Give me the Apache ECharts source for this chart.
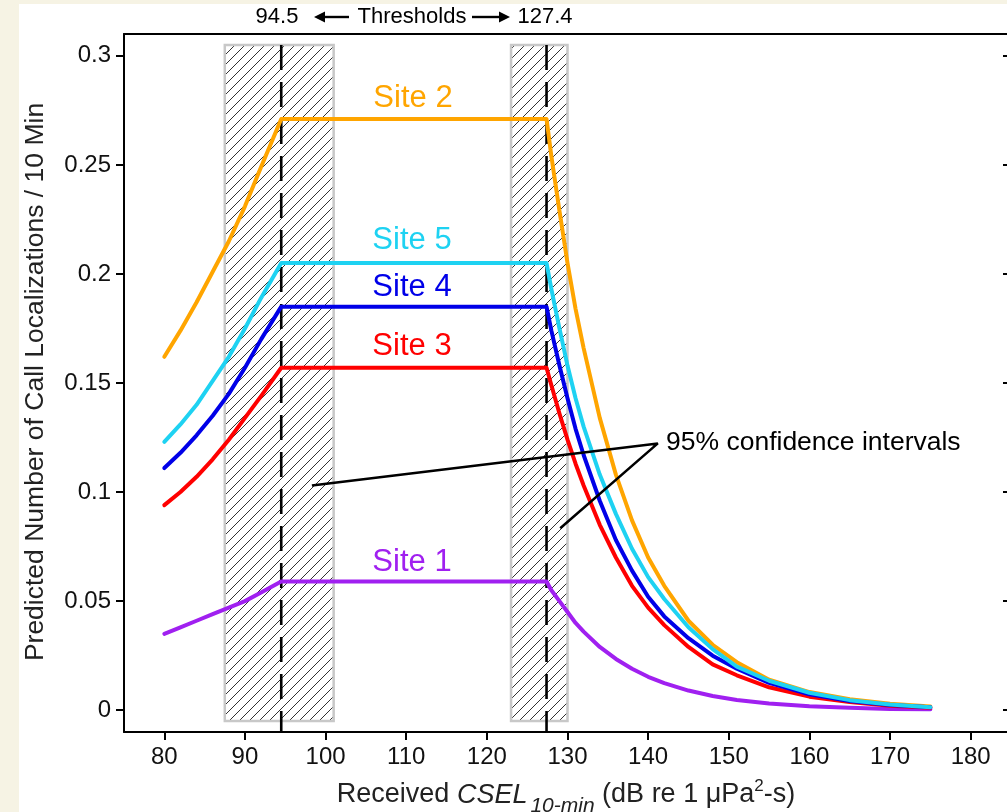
<!DOCTYPE html>
<html><head><meta charset="utf-8">
<script src="https://cdn.jsdelivr.net/npm/echarts@6/dist/echarts.min.js"></script>
<style>
html,body{margin:0;padding:0;background:#f6f3e4;overflow:hidden;}
#panel{position:absolute;left:19px;top:4px;width:988px;height:808px;background:#fff;}
#chart{position:absolute;left:0;top:0;width:1007px;height:812px;}
</style></head><body><div id="panel"></div><div id="chart"></div>
<script>
// ---- data ----
const xValues = [80, 82, 84, 86, 88, 90, 92, 94.5, 127.4, 128, 129, 130, 131, 132, 134, 136, 138, 140, 142, 145, 148, 151, 155, 160, 165, 170, 175];
const site1 = [0.035,0.038,0.041,0.044,0.047,0.050,0.054,0.059, 0.059,0.055,0.050,0.045,0.040,0.036,0.029,0.0235,0.019,0.0153,0.0124,0.009,0.0065,0.0047,0.0031,0.0018,0.0011,0.0006,0.0004];
const site2 = [0.162,0.174,0.187,0.201,0.215,0.231,0.249,0.271, 0.271,0.254,0.229,0.205,0.184,0.166,0.134,0.108,0.087,0.070,0.057,0.041,0.030,0.022,0.014,0.0083,0.005,0.003,0.0017];
const site3 = [0.094,0.100,0.107,0.115,0.124,0.134,0.144,0.157, 0.157,0.149,0.136,0.124,0.113,0.103,0.085,0.070,0.057,0.047,0.039,0.029,0.021,0.016,0.0105,0.0062,0.0037,0.002,0.0011];
const site4 = [0.111,0.118,0.126,0.135,0.145,0.157,0.170,0.185, 0.185,0.174,0.158,0.143,0.129,0.117,0.096,0.078,0.064,0.052,0.043,0.033,0.025,0.019,0.0125,0.0073,0.0042,0.0024,0.0013];
const site5 = [0.123,0.131,0.140,0.151,0.162,0.175,0.189,0.205, 0.205,0.193,0.175,0.158,0.143,0.130,0.108,0.090,0.074,0.061,0.051,0.038,0.028,0.020,0.0135,0.008,0.0046,0.0026,0.0014];
const siteNames = ['Site 1','Site 2','Site 3','Site 4','Site 5'];
const siteColors = ['#A020F0','#FFA500','#FF0000','#0000E8','#1ED2F2'];
const thresholds = [94.5, 127.4];
const thresholdLabels = ['94.5', '127.4'];
const ciLow = [87.5, 123.0];
const ciHigh = [101.0, 130.0];
const ciBottom = -0.005, ciTop = 0.305;
const xTicks = [80,90,100,110,120,130,140,150,160,170,180];
const yTicks = [0,0.05,0.1,0.15,0.2,0.25,0.3];
const annotPath = [[98.3,0.103],[141.2,0.1223],[129.1,0.0834]];

// ---- chart ----
const FONT = '"Liberation Sans", Arial, Helvetica, sans-serif';
function hatchCanvas(){
  const n = 10;
  const c=document.createElement('canvas'); c.width=n; c.height=n;
  const g=c.getContext('2d');
  g.fillStyle='#fff'; g.fillRect(0,0,n,n);
  g.strokeStyle='#1a1a1a'; g.lineWidth=0.9;
  g.beginPath();
  g.moveTo(0,n); g.lineTo(n,0);
  g.moveTo(-2,2); g.lineTo(2,-2);
  g.moveTo(n-2,n+2); g.lineTo(n+2,n-2);
  g.stroke();
  return c;
}
const hatch = hatchCanvas();
const sites = [site1, site2, site3, site4, site5];

const series = [];
series.push({
  type:'custom', silent:true, z:1,
  data: ciLow.map((l,i)=>[l, ciHigh[i]]),
  encode:{x:[0,1]},
  renderItem:(params, api)=>{
    const p1 = api.coord([api.value(0), ciTop]);
    const p2 = api.coord([api.value(1), ciBottom]);
    return {type:'rect', shape:{x:p1[0], y:p1[1], width:p2[0]-p1[0], height:p2[1]-p1[1]},
      style:{fill:{image:hatch, repeat:'repeat'}, stroke:'#c8c8c8', lineWidth:2.5}};
  }
});
thresholds.forEach(t=>{
  series.push({type:'line', silent:true, z:2, symbol:'none',
    data:[[t, ciTop],[t, -0.01]],
    lineStyle:{color:'#000', width:2.6, type:[25,12]}});
});
sites.forEach((s,i)=>{
  series.push({type:'line', name:siteNames[i], symbol:'none', z:3,
    data: xValues.map((x,j)=>[x, s[j]]),
    lineStyle:{color:siteColors[i], width:4, cap:'round', join:'round'}});
});
series.push({type:'line', silent:true, z:4, symbol:'none', data:annotPath,
  lineStyle:{color:'#000', width:2.5}});

const labelPos = [[412,562],[413,98],[412,346],[412,287],[412,240]];
const graphics = [];
siteNames.forEach((n,i)=>{
  graphics.push({type:'text', x:labelPos[i][0], y:labelPos[i][1], z:10,
    style:{text:n, fill:siteColors[i], font:'31px '+FONT, textAlign:'center', textVerticalAlign:'middle'}});
});
graphics.push({type:'text', x:666, y:443, z:10,
  style:{text:'95% confidence intervals', fill:'#000', font:'26.5px '+FONT, textAlign:'left', textVerticalAlign:'middle'}});
// header: threshold labels centred over the dashed lines
const HY = 17;
graphics.push({type:'text', x:277, y:HY, z:10,
  style:{text:thresholdLabels[0], fill:'#000', font:'22px '+FONT, textAlign:'center', textVerticalAlign:'middle'}});
graphics.push({type:'text', x:545, y:HY, z:10,
  style:{text:thresholdLabels[1], fill:'#000', font:'22px '+FONT, textAlign:'center', textVerticalAlign:'middle'}});
graphics.push({type:'text', x:412, y:HY, z:10,
  style:{text:'Thresholds', fill:'#000', font:'22px '+FONT, textAlign:'center', textVerticalAlign:'middle'}});
function arrow(x1, x2, dir){ // dir -1 => head at x1 pointing left; +1 => head at x2 pointing right
  const head = 11, hw = 5.5;
  const hx = dir < 0 ? x1 : x2;
  const bx = dir < 0 ? x1 + head : x2 - head;
  return [
    {type:'line', z:10, shape:{x1: dir<0 ? bx : x1, y1:HY, x2: dir<0 ? x2 : bx, y2:HY}, style:{stroke:'#000', lineWidth:2.4}},
    {type:'polygon', z:10, shape:{points:[[hx,HY],[bx,HY-hw],[bx,HY+hw]]}, style:{fill:'#000'}}
  ];
}
arrow(314, 349, -1).forEach(g=>graphics.push(g));
arrow(472, 510, 1).forEach(g=>graphics.push(g));

graphics.push({type:'text', x:36, y:382, rotation:Math.PI/2, z:10,
  style:{text:'Predicted Number of Call Localizations / 10 Min', fill:'#222', font:'26.5px '+FONT, textAlign:'center', textVerticalAlign:'middle'}});
graphics.push({type:'text', x:566, y:795, z:10,
  style:{text:'{a|Received }{i|CSEL}{s|10-min}{a| (dB re 1 \u03bcPa}{p|2}{a|-s)}', textAlign:'center', textVerticalAlign:'middle',
    rich:{
      a:{fontSize:27, fontFamily:FONT, fill:'#222'},
      i:{fontSize:27, fontFamily:FONT, fontStyle:'italic', fill:'#222'},
      s:{fontSize:21, fontFamily:FONT, fontStyle:'italic', fill:'#222', padding:[22,0,0,3]},
      p:{fontSize:17, fontFamily:FONT, fill:'#222', padding:[0,0,17,0]}
    }}});

const axisLineStyle = {color:'#000', width:2};
const chart = echarts.init(document.getElementById('chart'), null, {renderer:'canvas'});
chart.setOption({
  animation:false,
  backgroundColor:'transparent',
  grid:{left:124, top:34, width:887, height:698, outerBoundsMode:'none', containLabel:false},
  xAxis:[
    {type:'value', min:75, max:185, position:'bottom',
     axisLine:{show:true, onZero:false, lineStyle:axisLineStyle},
     axisTick:{show:true, length:8, customValues:xTicks, lineStyle:{color:'#000', width:2}},
     axisLabel:{show:true, customValues:xTicks, fontSize:24, color:'#111', fontFamily:FONT, margin:13},
     splitLine:{show:false}},
    {type:'value', min:75, max:185, position:'top',
     axisLine:{show:true, onZero:false, lineStyle:axisLineStyle},
     axisTick:{show:false}, axisLabel:{show:false}, splitLine:{show:false}}
  ],
  yAxis:[
    {type:'value', min:-0.01, max:0.31, position:'left',
     axisLine:{show:true, onZero:false, lineStyle:axisLineStyle},
     axisTick:{show:true, length:8, customValues:yTicks, lineStyle:{color:'#000', width:2}},
     axisLabel:{show:true, customValues:yTicks, fontSize:24, color:'#111', fontFamily:FONT, margin:13},
     splitLine:{show:false}},
    {type:'value', min:-0.01, max:0.31, position:'right',
     axisLine:{show:true, onZero:false, lineStyle:axisLineStyle},
     axisTick:{show:true, inside:true, length:8, customValues:yTicks, lineStyle:{color:'#000', width:2}},
     axisLabel:{show:false}, splitLine:{show:false}}
  ],
  series: series,
  graphic: graphics
});
</script></body></html>
